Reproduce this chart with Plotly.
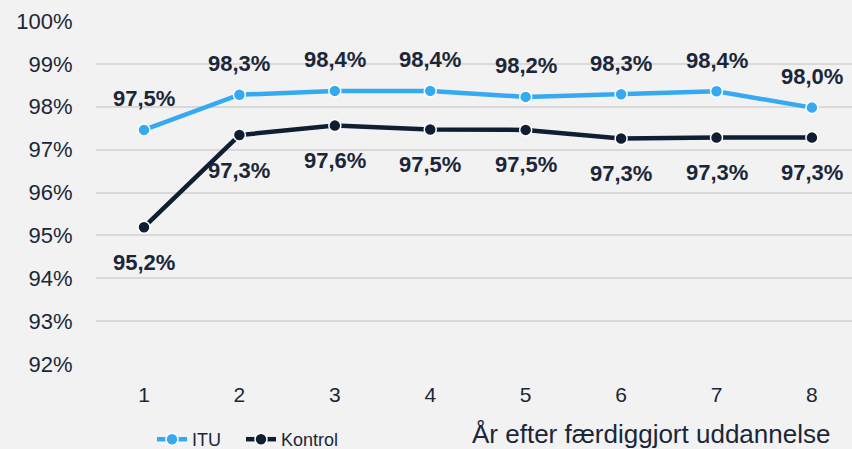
import plotly.graph_objects as go

years = [1, 2, 3, 4, 5, 6, 7, 8]
itu = [97.46, 98.28, 98.37, 98.37, 98.23, 98.29, 98.36, 97.98]
kontrol = [95.19, 97.34, 97.56, 97.47, 97.46, 97.26, 97.28, 97.28]
y_ticks = [92, 93, 94, 95, 96, 97, 98, 99, 100]

BG = "#f2f2f2"
TXT = "#1b2638"
C_ITU = "#35a9f2"
C_KON = "#0f1e33"
FONT = "Liberation Sans, Arial, sans-serif"

L, T, B, W, H = 96, 21, 85, 852, 449
PW, PH = W - L, H - T - B

def lbl(v):
    return f"{v:.1f}%".replace(".", ",")

fig = go.Figure()
fig.add_trace(go.Scatter(x=years, y=itu, mode="lines+markers", name="ITU\u00a0\u00a0\u00a0",
                         line=dict(color=C_ITU, width=4.5),
                         marker=dict(size=12, color=C_ITU, line=dict(color="white", width=1.5))))
fig.add_trace(go.Scatter(x=years, y=kontrol, mode="lines+markers", name="Kontrol",
                         line=dict(color=C_KON, width=4.5),
                         marker=dict(size=12, color=C_KON, line=dict(color="white", width=1.5))))

anns = []
for x, v in zip(years, itu):
    anns.append(dict(x=x, y=v, text=f"<b>{lbl(v)}</b>", showarrow=False, yshift=31,
                     font=dict(size=22, color=TXT, family=FONT)))
for x, v in zip(years, kontrol):
    anns.append(dict(x=x, y=v, text=f"<b>{lbl(v)}</b>", showarrow=False, yshift=-35,
                     font=dict(size=22, color=TXT, family=FONT)))
anns.append(dict(x=(651 - L) / PW, y=-(434 - (H - B)) / PH, xref="paper", yref="paper",
                 xanchor="center", yanchor="middle",
                 text="År efter færdiggjort uddannelse", showarrow=False,
                 font=dict(size=26, color=TXT, family=FONT)))

fig.update_layout(
    width=W, height=H,
    paper_bgcolor=BG, plot_bgcolor=BG,
    margin=dict(l=L, r=0, t=T, b=B, autoexpand=False),
    font=dict(family=FONT, color=TXT, size=18),
    showlegend=True,
    legend=dict(orientation="h", x=(152 - L) / PW, xanchor="left",
                y=-(421 - (H - B)) / PH, yanchor="top",
                font=dict(size=18, color=TXT, family=FONT),
                bgcolor="rgba(0,0,0,0)", itemwidth=30, tracegroupgap=0),
    xaxis=dict(range=[0.497, 8.42], tickvals=years, ticktext=[str(y) for y in years],
               showgrid=False, zeroline=False, showline=False,
               ticks="outside", ticklen=12, tickcolor=BG,
               tickfont=dict(size=21, color=TXT)),
    yaxis=dict(range=[92, 100], tickvals=y_ticks, ticktext=[f"{t}%" for t in y_ticks],
               showgrid=True, gridcolor="#d9d9d9", gridwidth=1.5, zeroline=False,
               showline=False, ticks="outside", ticklen=18, tickcolor=BG,
               tickfont=dict(size=22, color=TXT)),
    annotations=anns,
)

fig.write_html("out.html", config={"displayModeBar": False},
               post_script="document.body.style.margin='0';document.body.style.background='#f2f2f2';")
